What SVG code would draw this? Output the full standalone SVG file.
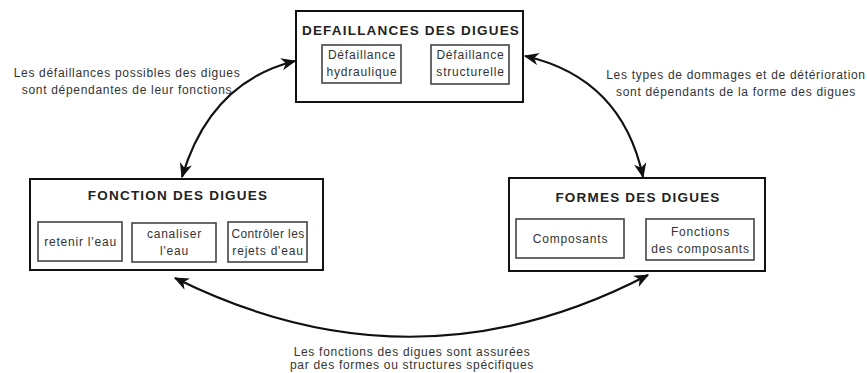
<svg xmlns="http://www.w3.org/2000/svg" width="867" height="373" viewBox="0 0 867 373">
<defs>
<style>
.outer{fill:#fff;stroke:#111;stroke-width:2}
.inner{fill:#fff;stroke:#444;stroke-width:1.6}
.title{font-family:"Liberation Sans",Arial,sans-serif;font-weight:bold;font-size:13.5px;letter-spacing:1.2px;fill:#222;text-anchor:middle}
.small{font-family:"Liberation Sans",Arial,sans-serif;font-size:12px;letter-spacing:0.8px;fill:#333;text-anchor:middle}
.tight{letter-spacing:0.4px}
.label{font-family:"Liberation Sans",Arial,sans-serif;font-size:12px;letter-spacing:0.7px;fill:#333;text-anchor:middle}
.conn{fill:none;stroke:#111;stroke-width:2.2;marker-start:url(#ah);marker-end:url(#ah)}
</style>
<marker id="ah" viewBox="0 0 12 10" refX="11" refY="5" markerWidth="15" markerHeight="13" markerUnits="userSpaceOnUse" orient="auto-start-reverse">
<path d="M0,0 L12,5 L0,10 L3.5,5 z" fill="#111"/>
</marker>
</defs>
<rect width="867" height="373" fill="#fff"/>
<g id="connectors">
<path class="conn" d="M295,61 Q210,82 182,177"/>
<path class="conn" d="M525,56 Q622,78 643,177"/>
<path class="conn" d="M175,278 Q414,397 648,275"/>
</g>
<g id="labels">
<text class="label" x="127" y="77">Les défaillances possibles des digues</text>
<text class="label" x="127" y="94">sont dépendantes de leur fonctions</text>
<text class="label" x="736" y="79">Les types de dommages et de détérioration</text>
<text class="label" x="736" y="96">sont dépendants de la forme des digues</text>
<text class="label" x="412" y="356">Les fonctions des digues sont assurées</text>
<text class="label" x="412" y="369">par des formes ou structures spécifiques</text>
</g>
<g id="node-defaillances">
<rect class="outer" x="296" y="11" width="227" height="91"/>
<text class="title" x="411" y="35">DEFAILLANCES DES DIGUES</text>
<rect class="inner" x="322" y="45" width="79" height="38"/>
<text class="small" x="362" y="59">Défaillance</text>
<text class="small" x="362" y="76">hydraulique</text>
<rect class="inner" x="431" y="45" width="78" height="39"/>
<text class="small" x="470.5" y="59">Défaillance</text>
<text class="small" x="470.5" y="76">structurelle</text>
</g>
<g id="node-fonction">
<rect class="outer" x="30" y="179" width="293" height="91"/>
<text class="title" x="178" y="200">FONCTION DES DIGUES</text>
<rect class="inner" x="38" y="222" width="84" height="39"/>
<text class="small" x="80.5" y="246">retenir l'eau</text>
<rect class="inner" x="132" y="223" width="84" height="39"/>
<text class="small" x="174.5" y="238">canaliser</text>
<text class="small" x="174.5" y="255">l'eau</text>
<rect class="inner" x="228" y="222" width="79" height="40"/>
<text class="small tight" x="268" y="238">Contrôler les</text>
<text class="small" x="268" y="255">rejets d'eau</text>
</g>
<g id="node-formes">
<rect class="outer" x="509" y="178" width="256" height="93"/>
<text class="title" x="638" y="202">FORMES DES DIGUES</text>
<rect class="inner" x="516" y="219" width="108" height="39"/>
<text class="small" x="570.5" y="243">Composants</text>
<rect class="inner" x="646" y="219" width="108" height="41"/>
<text class="small" x="700.5" y="236">Fonctions</text>
<text class="small" x="700.5" y="253">des composants</text>
</g>
</svg>
